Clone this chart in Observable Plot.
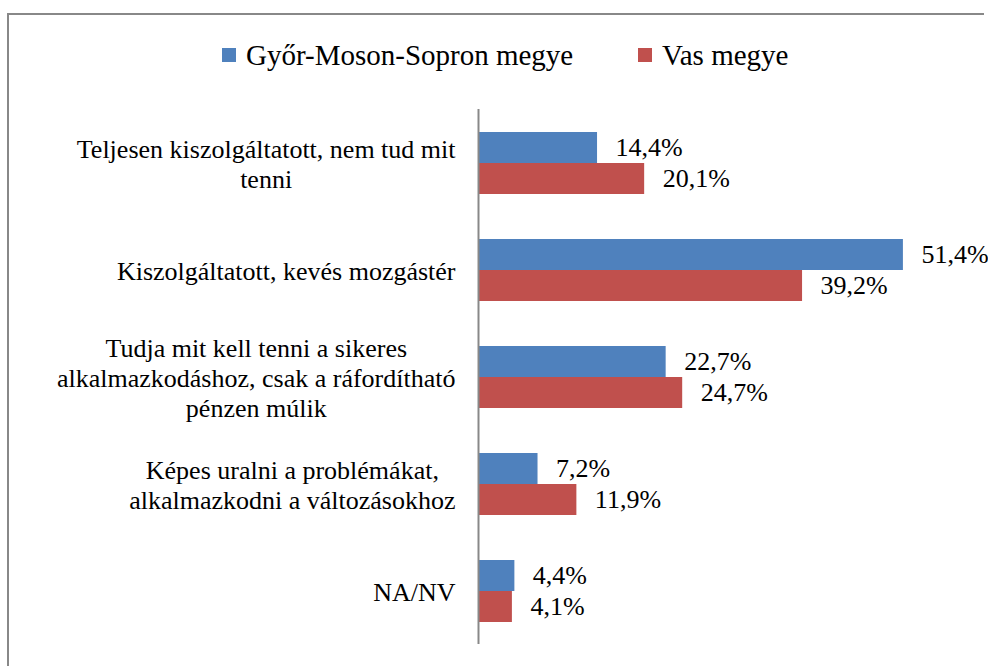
<!DOCTYPE html>
<html>
<head>
<meta charset="utf-8">
<script src="https://cdn.jsdelivr.net/npm/d3@7"></script>
<script src="https://cdn.jsdelivr.net/npm/@observablehq/plot@0.6"></script>
</head>
<body style="margin:0;padding:0;background:#fff;font-family:'Times New Roman'">
<div id="frame" style="position:absolute;left:7px;top:13px;width:975px;height:700px;border:2px solid #888;border-right:none;"></div>
<div id="chart" style="position:absolute;left:0;top:0"></div>
<script>
const categories = [
  "Teljesen kiszolgáltatott, nem tud mit\ntenni",
  "Kiszolgáltatott, kevés mozgástér",
  "Tudja mit kell tenni a sikeres\nalkalmazkodáshoz, csak a ráfordítható\npénzen múlik",
  "Képes uralni a problémákat,\nalkalmazkodni a változásokhoz",
  "NA/NV"
];
const series = ["Győr-Moson-Sopron megye", "Vas megye"];
const gyorValues = [14.4, 51.4, 22.7, 7.2, 4.4];
const vasValues = [20.1, 39.2, 24.7, 11.9, 4.1];
const colors = ["#4F81BD", "#C0504D"];

const data = categories.flatMap((c, i) => [
  {category: c, series: series[0], value: gyorValues[i]},
  {category: c, series: series[1], value: vasValues[i]}
]);

const fontFamily = "Times New Roman";
const fs = 26;
const probe = document.createElement("span");
probe.style.cssText = `position:absolute;visibility:hidden;white-space:pre;font-family:'Times New Roman';font-size:${fs}px`;
document.body.appendChild(probe);
const maxW = s => Math.max(...s.split("\n").map(l => { probe.textContent = l; return probe.getBoundingClientRect().width; }));
const widths = categories.map(maxW);
probe.remove();
const fmt = v => v.toFixed(1).replace(".", ",") + "%";

const legLefts = [222, 638];
series.forEach((s, i) => {
  const d = document.createElement("div");
  d.style.cssText = `position:absolute;top:38px;left:${legLefts[i]}px;height:34px;display:flex;align-items:center;font-family:'Times New Roman';font-size:29px;color:#000;white-space:nowrap`;
  const sw = document.createElement("div");
  sw.style.cssText = `width:14px;height:14px;margin-right:10px;background:${colors[i]}`;
  const t = document.createElement("span");
  t.textContent = s;
  d.appendChild(sw); d.appendChild(t);
  document.body.appendChild(d);
});

const chart = Plot.plot({
  width: 988,
  height: 666,
  marginTop: 108,
  marginBottom: 21,
  marginLeft: 478,
  marginRight: 14,
  x: {domain: [0, 60], axis: null},
  y: {domain: series, axis: null, paddingInner: 0, paddingOuter: 0.72},
  fy: {domain: categories, axis: null, padding: 0},
  color: {domain: series, range: colors},
  style: {fontFamily, fontSize: fs + "px", background: "transparent", color: "#000"},
  marks: [
    Plot.barX(data, {x: "value", y: "series", fy: "category", fill: "series"}),
    Plot.text(data, {x: "value", y: "series", fy: "category", text: d => fmt(d.value), textAnchor: "start", dx: 18, fontSize: fs, fill: "#000"}),
    ...categories.map((c, i) => Plot.text([c], {
      fy: d => d, text: d => d, frameAnchor: "left", dx: -(23 + widths[i] / 2),
      textAnchor: "middle", lineHeight: 30 / fs, fontSize: fs, fill: "#000"
    })),
    Plot.ruleX([0], {stroke: "#888", strokeWidth: 2})
  ]
});
document.getElementById("chart").appendChild(chart);
</script>
</body>
</html>
